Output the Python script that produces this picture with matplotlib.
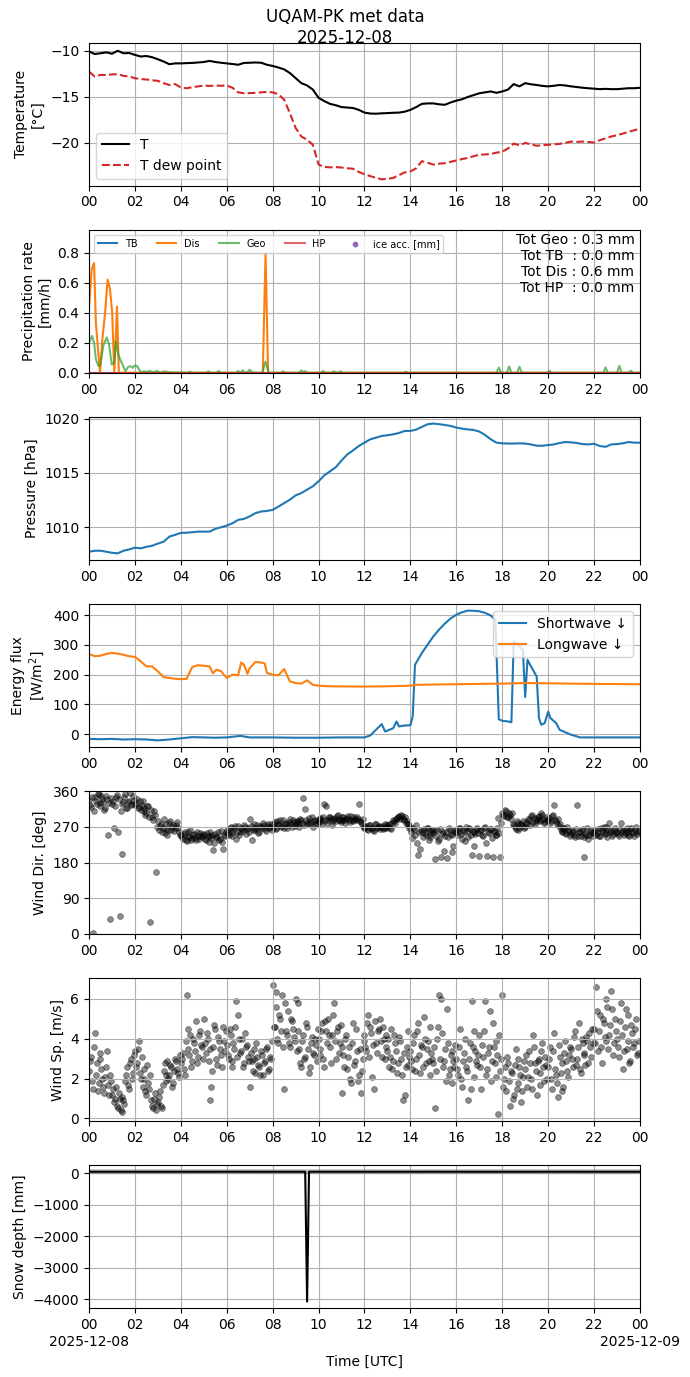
import numpy as np
import matplotlib
matplotlib.use("Agg")
import matplotlib.pyplot as plt
import matplotlib.dates as mdates
from matplotlib.ticker import FuncFormatter

# ---------------------------------------------------------------
# Data (hours since 2025-12-08 00 UTC)
# ---------------------------------------------------------------
DAY = np.datetime64("2025-12-08T00:00:00")

# temperature, every 15 min
temp_hours = np.arange(97) * 0.25
temp_T = [-10.05, -10.33, -10.25, -10.15, -10.30, -9.98, -10.25, -10.22,
          -10.43, -10.60, -10.55, -10.68, -10.90, -11.15, -11.44, -11.35,
          -11.35, -11.32, -11.30, -11.25, -11.20, -11.08, -11.20, -11.28,
          -11.35, -11.42, -11.50, -11.30, -11.28, -11.25, -11.28, -11.50,
          -11.63, -11.80, -12.00, -12.40, -12.95, -13.50, -13.75, -14.20,
          -15.10, -15.45, -15.75, -15.90, -16.10, -16.15, -16.20, -16.40,
          -16.70, -16.80, -16.82, -16.78, -16.75, -16.72, -16.70, -16.60,
          -16.40, -16.10, -15.75, -15.70, -15.70, -15.80, -15.85, -15.60,
          -15.40, -15.25, -15.00, -14.80, -14.60, -14.50, -14.40, -14.55,
          -14.40, -14.20, -13.60, -13.85, -13.50, -13.62, -13.70, -13.80,
          -13.85, -13.78, -13.70, -13.75, -13.85, -13.92, -14.00, -14.05,
          -14.10, -14.15, -14.12, -14.15, -14.15, -14.10, -14.05, -14.05,
          -14.00]
temp_Td = [-12.24, -12.78, -12.60, -12.62, -12.55, -12.52, -12.70, -12.78,
           -12.96, -13.05, -13.10, -13.18, -13.25, -13.50, -13.70, -13.60,
           -13.97, -14.05, -13.94, -13.85, -13.76, -13.80, -13.76, -13.78,
           -13.76, -14.00, -14.50, -14.60, -14.58, -14.55, -14.50, -14.45,
           -14.50, -14.70, -15.30, -16.75, -18.37, -19.30, -19.65, -20.20,
           -22.35, -22.60, -22.65, -22.62, -22.67, -22.75, -22.80, -23.15,
           -23.40, -23.60, -23.80, -23.95, -23.90, -23.80, -23.50, -23.20,
           -23.10, -22.75, -21.98, -22.15, -22.35, -22.25, -22.20, -22.05,
           -21.90, -21.75, -21.63, -21.45, -21.27, -21.25, -21.20, -21.05,
           -20.95, -20.60, -20.07, -20.25, -20.00, -20.15, -20.30, -20.25,
           -20.20, -20.15, -20.10, -19.98, -19.85, -19.88, -19.85, -19.90,
           -19.95, -19.70, -19.50, -19.30, -19.15, -18.98, -18.80, -18.62,
           -18.45]

# precipitation rates
tb_hours = [0.0, 24.0]
tb_rate = [0.0, 0.0]
hp_hours = [0.0, 24.0]
hp_rate = [0.0, 0.0]
dis_hours = [0.00, 0.12, 0.22, 0.30, 0.38, 0.48, 0.58, 0.70, 0.81, 0.91,
             1.01, 1.10, 1.22, 1.30, 7.57, 7.69, 7.80, 24.0]
dis_rate = [0.44, 0.69, 0.73, 0.33, 0.18, 0.00, 0.22, 0.40, 0.62, 0.56,
            0.40, 0.00, 0.44, 0.00, 0.00, 0.80, 0.00, 0.00]
geo_hours = [0.00, 0.14, 0.23, 0.30, 0.41, 0.50, 0.62, 0.77, 0.87, 0.99,
             1.10, 1.17, 1.28, 1.39, 1.49, 1.59, 1.71, 1.81, 1.90, 2.00,
             2.10, 2.19, 2.29, 2.40, 2.50, 2.65, 2.80, 2.95, 3.10, 3.30,
             3.50, 4.30, 4.40, 4.50, 5.10, 5.20, 5.30, 5.55, 5.65, 5.75,
             6.40, 6.50, 6.60, 6.70, 6.78, 6.90, 7.00, 7.10, 7.20, 7.55,
             7.69, 7.83, 8.35, 8.45, 8.55, 9.15, 9.25, 9.33, 9.42, 9.50,
             10.10, 10.20, 10.30, 10.55, 10.65, 10.85, 10.95, 11.05, 13.70, 13.80,
             13.90, 17.75, 17.85, 17.95, 18.20, 18.30, 18.40, 18.65, 18.75, 18.85,
             19.95, 20.05, 20.15, 22.40, 22.50, 22.60, 23.00, 23.10, 23.20, 23.50,
             23.60, 23.70, 24.00]
geo_rate = [0.200, 0.245, 0.190, 0.090, 0.045, 0.055, 0.180, 0.235, 0.190, 0.055,
            0.067, 0.210, 0.120, 0.078, 0.044, 0.011, 0.040, 0.044, 0.033, 0.049,
            0.044, 0.018, 0.004, 0.011, 0.004, 0.013, 0.003, 0.012, 0.003, 0.010,
            0.003, 0.000, 0.008, 0.000, 0.000, 0.009, 0.000, 0.000, 0.012, 0.000,
            0.000, 0.012, 0.000, 0.016, 0.000, 0.004, 0.020, 0.004, 0.000, 0.000,
            0.075, 0.000, 0.000, 0.010, 0.000, 0.000, 0.016, 0.004, 0.012, 0.000,
            0.000, 0.012, 0.000, 0.000, 0.010, 0.000, 0.010, 0.000, 0.000, 0.008,
            0.000, 0.000, 0.035, 0.000, 0.000, 0.042, 0.000, 0.000, 0.040, 0.000,
            0.000, 0.014, 0.000, 0.000, 0.036, 0.000, 0.000, 0.046, 0.000, 0.000,
            0.014, 0.000, 0.000]
ice_hours = []
ice_acc = []
totals = {"Geo": 0.3, "TB": 0.0, "Dis": 0.6, "HP": 0.0}

# pressure, every 15 min
pres_hours = np.arange(97) * 0.25
pressure = [1007.75, 1007.84, 1007.84, 1007.75, 1007.65, 1007.60, 1007.84, 1007.96,
            1008.12, 1008.06, 1008.20, 1008.30, 1008.50, 1008.67, 1009.14, 1009.30,
            1009.48, 1009.50, 1009.54, 1009.60, 1009.60, 1009.60, 1009.85, 1010.00,
            1010.15, 1010.37, 1010.68, 1010.77, 1011.00, 1011.30, 1011.45, 1011.50,
            1011.60, 1011.90, 1012.22, 1012.53, 1012.93, 1013.15, 1013.46, 1013.77,
            1014.23, 1014.78, 1015.15, 1015.52, 1016.14, 1016.70, 1017.07, 1017.47,
            1017.78, 1018.09, 1018.24, 1018.40, 1018.46, 1018.55, 1018.67, 1018.86,
            1018.86, 1018.98, 1019.23, 1019.48, 1019.54, 1019.48, 1019.41, 1019.32,
            1019.17, 1019.07, 1019.00, 1018.95, 1018.80, 1018.49, 1018.09, 1017.78,
            1017.72, 1017.70, 1017.70, 1017.72, 1017.70, 1017.62, 1017.50, 1017.50,
            1017.56, 1017.62, 1017.75, 1017.84, 1017.81, 1017.75, 1017.65, 1017.62,
            1017.68, 1017.47, 1017.40, 1017.62, 1017.65, 1017.72, 1017.84, 1017.78,
            1017.78]

# radiation
sw_hours = [0.0, 0.5, 1.0, 1.5, 2.0, 2.5, 3.0, 3.5, 4.0, 4.5, 5.0, 5.5,
            6.0, 6.6, 7.0, 8.0, 9.0, 10.0, 11.0, 12.0, 12.25, 12.5, 12.75, 12.9,
            13.0, 13.25, 13.4, 13.5, 13.75, 14.0, 14.1, 14.2, 14.5, 14.75, 15.0, 15.25,
            15.5, 15.75, 16.0, 16.25, 16.5, 16.75, 17.0, 17.25, 17.5, 17.7, 17.85, 18.0,
            18.25, 18.4, 18.5, 18.75, 18.9, 19.0, 19.1, 19.25, 19.5, 19.6, 19.7, 19.85,
            20.0, 20.1, 20.35, 20.5, 21.0, 21.4, 22.0, 23.0, 24.0]
shortwave = [-16, -17, -16, -18, -17, -18, -21, -18, -14, -10, -11, -12,
             -11, -6, -11, -11, -12, -12, -11, -11, -4.5, 14.6, 33.7, 9,
             12, 20, 42.7, 26, 29, 30, 59.5, 233.7, 273, 301, 329, 351.7,
             372, 388.8, 402, 410, 415.7, 415, 413.5, 408, 399, 385, 50, 45,
             42.7, 40, 312, 295.5, 282, 125, 250.5, 228, 194, 54, 31.5, 37,
             76, 54, 37, 14.6, -2, -11, -11, -11, -11]
lw_hours = [0.0, 0.25, 0.5, 0.75, 1.0, 1.25, 1.5, 1.75, 2.0, 2.25, 2.5, 2.75,
            3.0, 3.25, 3.5, 3.75, 4.0, 4.25, 4.5, 4.75, 5.0, 5.25, 5.4, 5.55,
            5.75, 6.0, 6.25, 6.5, 6.625, 6.75, 6.9, 7.0, 7.25, 7.5, 7.65, 7.75,
            8.0, 8.25, 8.5, 8.75, 9.0, 9.25, 9.5, 9.75, 10.0, 10.5, 11.0, 12.0,
            13.0, 14.0, 14.25, 16.0, 18.0, 19.0, 20.0, 22.0, 24.0]
longwave = [269.7, 262, 264, 270, 273, 271, 267, 262, 260, 245, 228, 228,
            211, 192, 189, 186.5, 185, 186, 226, 232, 230, 228, 205, 217,
            212, 189, 200, 198, 241, 234, 203, 222, 243, 241, 238, 206,
            200, 198, 219, 177.5, 172, 170, 181, 166, 163, 161, 160.5, 160,
            161, 163, 166, 168, 170, 172, 171, 169, 168]

# wind, every 5 min (set a) and shifted by 2.5 min (set b)
wind_hours_a = np.arange(288) / 12.0
wind_hours_b = np.arange(288) / 12.0 + 1.0 / 24.0
wind_dir_a = [
    338, 319, 2, 345, 328, 352, 330, 341, 312, 348, 249, 37,
    327, 268, 345, 257, 45, 201, 332, 352, 318, 336, 324, 347,
    326, 340, 320, 312, 335, 318, 305, 322, 29, 296, 310, 155,
    285, 272, 258, 290, 265, 250, 280, 262, 275, 268, 282, 258,
    249, 240, 256, 235, 248, 262, 242, 252, 238, 246, 255, 244,
    250, 236, 247, 258, 241, 211, 252, 245, 238, 260, 215, 248,
    262, 250, 270, 255, 266, 240, 272, 258, 264, 275, 252, 268,
    290, 238, 268, 262, 275, 258, 270, 280, 264, 272, 266, 278,
    270, 282, 265, 276, 288, 272, 268, 280, 275, 290, 270, 283,
    278, 285, 270, 288, 342, 316, 276, 292, 282, 270, 286, 280,
    281, 292, 278, 327, 322, 288, 296, 275, 290, 284, 300, 286,
    288, 295, 280, 292, 286, 298, 284, 290, 296, 327, 282, 290,
    266, 272, 262, 275, 268, 260, 276, 270, 264, 272, 268, 274,
    270, 278, 265, 287, 280, 292, 297, 300, 290, 294, 285, 276,
    270, 242, 262, 275, 198, 214, 258, 265, 250, 268, 245, 260,
    255, 189, 262, 240, 194, 258, 248, 192, 266, 252, 207, 260,
    262, 250, 268, 240, 256, 270, 245, 265, 200, 258, 252, 268,
    196, 262, 248, 270, 196, 255, 265, 194, 258, 250, 292, 194,
    304, 298, 310, 295, 300, 306, 274, 265, 280, 268, 276, 285,
    270, 278, 288, 297, 282, 276, 290, 297, 285, 300, 280, 294,
    287, 280, 297, 326, 284, 290, 276, 260, 268, 255, 270, 262,
    253, 260, 245, 325, 258, 248, 265, 193, 250, 240, 262, 255,
    258, 250, 265, 248, 262, 270, 255, 245, 280, 260, 252, 266,
    258, 248, 280, 262, 255, 268, 250, 264, 258, 246, 270, 260]
wind_dir_b = [
    325, 344, 310, 336, 352, 322, 347, 333, 318, 340, 329, 343,
    336, 322, 350, 340, 310, 328, 346, 318, 332, 355, 327, 338,
    330, 318, 335, 325, 310, 300, 322, 295, 312, 288, 300, 270,
    262, 278, 268, 255, 276, 262, 285, 270, 260, 274, 266, 250,
    244, 252, 238, 258, 245, 236, 250, 242, 256, 240, 248, 252,
    240, 254, 232, 246, 250, 228, 244, 256, 240, 232, 250, 258,
    255, 268, 248, 262, 272, 258, 250, 266, 260, 270, 264, 256,
    272, 262, 276, 268, 255, 272, 266, 274, 260, 278, 270, 262,
    278, 268, 284, 274, 270, 286, 278, 266, 282, 276, 288, 272,
    284, 276, 290, 280, 274, 288, 282, 278, 294, 284, 276, 288,
    290, 284, 296, 286, 280, 294, 290, 284, 292, 298, 286, 282,
    294, 286, 290, 298, 282, 288, 294, 286, 290, 284, 276, 270,
    270, 264, 274, 268, 262, 278, 266, 272, 270, 264, 276, 268,
    274, 268, 280, 284, 290, 296, 290, 298, 286, 280, 276, 268,
    258, 266, 250, 230, 256, 262, 244, 255, 268, 238, 252, 262,
    260, 248, 235, 264, 252, 210, 256, 244, 262, 250, 222, 258,
    258, 266, 252, 262, 235, 260, 268, 250, 258, 222, 264, 255,
    262, 250, 268, 230, 258, 264, 242, 260, 250, 268, 255, 280,
    300, 312, 296, 304, 290, 278, 270, 284, 262, 276, 272, 268,
    282, 290, 274, 300, 292, 284, 296, 288, 304, 290, 282, 288,
    292, 284, 300, 286, 278, 272, 264, 258, 266, 252, 260, 248,
    258, 250, 264, 246, 256, 262, 244, 252, 266, 250, 258, 248,
    262, 255, 248, 266, 258, 252, 270, 262, 256, 248, 262, 258,
    252, 265, 258, 250, 262, 256, 248, 266, 254, 262, 252, 258]
wind_speed_a = [
    2.4, 3.1, 1.5, 4.3, 2.8, 1.8, 3.3, 2.0, 1.3, 2.6, 1.7, 2.2,
    1.2, 0.8, 1.6, 0.5, 1.0, 0.3, 0.9, 1.9, 2.6, 1.5, 3.0, 2.3,
    3.4, 2.8, 3.9, 2.0, 1.6, 2.5, 1.2, 1.8, 2.2, 0.6, 1.0, 0.4,
    0.8, 1.4, 0.5, 2.4, 1.9, 2.9, 2.2, 2.6, 1.8, 3.0, 2.5, 2.1,
    2.8, 3.3, 2.2, 6.2, 3.5, 4.2, 2.9, 3.8, 4.9, 3.1, 4.4, 3.6,
    5.0, 3.3, 4.0, 0.95, 1.6, 3.6, 4.5, 2.7, 3.9, 3.2, 4.6, 3.4,
    3.7, 3.0, 4.2, 2.6, 3.5, 5.9, 5.2, 3.3, 4.0, 2.8, 3.6, 3.1,
    1.6, 2.9, 3.5, 2.3, 3.1, 2.6, 3.4, 2.2, 2.9, 3.6, 2.5, 3.0,
    6.7, 4.6, 6.35, 3.8, 5.0, 6.2, 1.5, 4.4, 5.4, 3.6, 4.9, 4.1,
    6.0, 5.8, 3.5, 2.6, 4.2, 3.1, 4.6, 2.3, 3.8, 3.3, 4.0, 2.9,
    4.0, 3.2, 4.8, 2.6, 4.4, 5.0, 3.6, 4.2, 5.8, 3.0, 4.6, 3.8,
    1.3, 3.2, 4.0, 2.5, 3.6, 1.8, 4.8, 2.9, 3.4, 2.2, 1.3, 3.0,
    4.2, 3.4, 5.2, 4.6, 2.1, 1.5, 3.8, 4.4, 5.0, 3.1, 4.0, 3.6,
    3.4, 2.6, 4.5, 2.9, 3.8, 2.3, 4.1, 3.0, 0.95, 1.2, 3.6, 2.7,
    3.4, 2.5, 4.2, 3.0, 4.8, 2.3, 3.6, 5.1, 2.8, 3.9, 2.2, 3.3,
    2.8, 0.5, 4.0, 6.2, 6.0, 2.6, 3.5, 5.5, 2.2, 3.2, 1.8, 2.6,
    3.0, 2.2, 4.5, 1.6, 3.3, 2.6, 0.9, 3.8, 5.9, 2.1, 3.4, 2.7,
    4.2, 1.5, 3.1, 5.9, 2.5, 3.6, 1.9, 4.8, 2.8, 3.9, 0.2, 2.4,
    6.2, 2.0, 1.4, 2.8, 0.6, 2.3, 1.2, 3.5, 1.8, 2.6, 0.8, 2.1,
    2.5, 1.6, 3.4, 2.0, 4.2, 2.8, 1.2, 3.0, 2.3, 3.8, 1.9, 2.7,
    2.6, 3.6, 1.5, 4.3, 2.2, 1.1, 3.1, 2.8, 1.6, 3.9, 2.4, 3.2,
    3.5, 2.6, 4.4, 3.0, 4.8, 2.3, 3.8, 3.2, 4.1, 2.8, 3.6, 4.5,
    4.5, 6.6, 3.4, 5.2, 2.8, 4.8, 3.9, 5.6, 4.2, 6.4, 3.2, 5.0,
    4.0, 3.1, 5.8, 2.5, 4.6, 3.5, 5.2, 2.9, 4.3, 3.8, 5.0, 3.3]
wind_speed_b = [
    2.9, 1.9, 3.6, 2.2, 1.4, 3.0, 2.5, 1.6, 2.1, 3.4, 1.2, 1.9,
    1.5, 1.0, 0.6, 1.3, 0.4, 1.1, 0.7, 2.2, 1.7, 2.8, 2.0, 3.2,
    2.6, 3.5, 2.3, 3.1, 2.0, 1.4, 2.7, 1.5, 0.9, 0.5, 1.3, 0.7,
    1.1, 0.6, 1.7, 2.8, 2.2, 2.0, 2.7, 1.6, 2.4, 2.9, 2.3, 3.2,
    3.0, 2.5, 3.9, 4.5, 3.2, 2.6, 4.0, 3.4, 2.8, 4.2, 3.7, 3.0,
    3.8, 4.3, 2.9, 3.5, 2.4, 4.7, 3.0, 4.1, 3.5, 2.6, 3.9, 4.4,
    3.2, 4.5, 2.9, 3.8, 4.6, 3.1, 4.0, 3.4, 2.6, 4.3, 3.7, 2.9,
    3.3, 2.4, 3.0, 3.8, 2.7, 2.2, 3.2, 2.8, 3.5, 2.4, 3.1, 3.9,
    4.6, 5.6, 4.0, 5.2, 4.4, 3.6, 5.8, 4.2, 3.8, 5.0, 4.5, 3.9,
    3.4, 4.4, 2.8, 3.9, 3.0, 4.8, 3.5, 2.6, 4.1, 3.2, 3.7, 4.5,
    3.5, 4.4, 3.0, 4.9, 3.8, 4.2, 2.8, 5.2, 3.9, 4.4, 3.3, 4.7,
    3.6, 2.6, 4.2, 3.1, 2.0, 3.8, 2.7, 4.5, 1.9, 3.5, 2.4, 3.9,
    3.6, 4.8, 3.1, 4.3, 3.7, 4.9, 3.3, 4.5, 3.9, 4.6, 3.0, 4.2,
    4.0, 3.1, 2.5, 4.2, 3.4, 2.8, 3.9, 2.2, 3.3, 2.6, 4.4, 3.1,
    2.9, 3.8, 2.4, 4.4, 3.2, 3.7, 2.6, 4.0, 3.5, 2.9, 4.6, 3.0,
    3.6, 2.4, 4.6, 3.0, 4.3, 2.9, 1.9, 3.8, 2.5, 3.4, 2.9, 3.7,
    2.5, 3.6, 2.0, 2.9, 4.0, 2.4, 3.0, 1.5, 3.6, 4.4, 2.9, 3.2,
    2.6, 3.7, 4.4, 2.2, 3.3, 5.4, 2.9, 3.6, 2.1, 3.2, 4.2, 3.0,
    1.6, 2.6, 3.1, 1.9, 2.4, 1.0, 2.7, 1.5, 3.0, 2.2, 1.4, 2.9,
    3.2, 2.1, 2.8, 1.5, 3.6, 2.4, 2.9, 1.7, 3.4, 2.6, 3.1, 2.0,
    3.0, 2.0, 3.4, 2.5, 1.8, 3.7, 2.3, 1.4, 3.3, 2.9, 2.1, 3.6,
    3.0, 4.1, 2.7, 3.6, 2.5, 4.0, 3.3, 2.7, 3.9, 4.3, 3.1, 3.8,
    3.8, 5.4, 4.4, 3.6, 5.0, 4.1, 6.0, 3.5, 4.7, 5.5, 3.8, 4.4,
    3.6, 4.9, 4.2, 3.4, 5.5, 3.9, 2.8, 4.7, 3.6, 4.5, 3.2, 3.9]

# snow depth (black) and the smoothed gray trace under it
snow_hours = [0.0, 3.0, 6.0, 9.0, 9.417, 9.5, 9.583, 12.0, 15.0, 18.0, 21.0, 24.0]
snow_depth = [52, 51, 52, 51, 51, -4070, 52, 51, 52, 51, 52, 51]
snow_smooth_hours = [0.0, 6.0, 12.0, 18.0, 24.0]
snow_smooth = [51, 52, 51, 52, 51]


def to_time(hours):
    """Convert hours since midnight to datetime64 values."""
    secs = np.round(np.asarray(hours, dtype=float) * 3600).astype("int64")
    return DAY + secs.astype("timedelta64[s]")


def hour_label(x, pos=None):
    return mdates.num2date(x).strftime("%H")


fig, axes = plt.subplots(7, 1, figsize=(6.9, 13.77))
fig.subplots_adjust(left=0.129, right=0.9275, top=0.9688, bottom=0.0501, hspace=0.31)
fig.suptitle("UQAM-PK met data\n2025-12-08", fontsize=12, y=0.994)

# Temperature
ax = axes[0]
ax.plot(to_time(temp_hours), temp_T, color="k", lw=1.5, label="T")
ax.plot(to_time(temp_hours), temp_Td, color="tab:red", ls="--", lw=1.5, label="T dew point")
ax.set_ylabel("Temperature\n[°C]")
ax.set_ylim(-24.65, -9.13)
ax.legend(loc="lower left")

# Precipitation
ax = axes[1]
ax.plot(to_time(tb_hours), tb_rate, color="tab:blue", lw=1.5, label="TB")
ax.plot(to_time(dis_hours), dis_rate, color="tab:orange", lw=1.5, label="Dis")
ax.plot(to_time(geo_hours), geo_rate, color="tab:green", lw=1.5, alpha=0.7, label="Geo")
ax.plot(to_time(hp_hours), hp_rate, color="tab:red", lw=1.5, alpha=0.7, label="HP")
ax.scatter(to_time(ice_hours), ice_acc, color="tab:purple", s=10, label="ice acc. [mm]")
ax.set_ylabel("Precipitation rate\n[mm/h]")
ax.set_ylim(0, 0.95)
ax.legend(loc="upper left", ncol=5, fontsize=7)
txt = "\n".join([f"Tot Geo : {totals['Geo']:.1f} mm",
                 f"Tot TB  : {totals['TB']:.1f} mm",
                 f"Tot Dis : {totals['Dis']:.1f} mm",
                 f"Tot HP  : {totals['HP']:.1f} mm"])
ax.text(0.99, 0.98, txt, transform=ax.transAxes, ha="right", va="top", fontsize=10)

# Pressure
ax = axes[2]
ax.plot(to_time(pres_hours), pressure, color="tab:blue", lw=1.5)
ax.set_ylabel("Pressure [hPa]")

# Radiation
ax = axes[3]
ax.plot(to_time(sw_hours), shortwave, color="tab:blue", lw=1.5, label="Shortwave ↓")
ax.plot(to_time(lw_hours), longwave, color="tab:orange", lw=1.5, label="Longwave ↓")
ax.set_ylabel("Energy flux\n[W/m$^2$]")
ax.legend(loc="upper right")

# Wind direction
ax = axes[4]
for hrs, vals in ((wind_hours_a, wind_dir_a), (wind_hours_b, wind_dir_b)):
    ax.scatter(to_time(hrs), vals, color="k", s=18, alpha=0.45, linewidths=0.5)
ax.set_ylabel("Wind Dir. [deg]")
ax.set_ylim(0, 360)
ax.set_yticks([0, 90, 180, 270, 360])

# Wind speed
ax = axes[5]
for hrs, vals in ((wind_hours_a, wind_speed_a), (wind_hours_b, wind_speed_b)):
    ax.scatter(to_time(hrs), vals, color="k", s=18, alpha=0.45, linewidths=0.5)
ax.set_ylabel("Wind Sp. [m/s]")

# Snow depth
ax = axes[6]
ax.plot(to_time(snow_smooth_hours), snow_smooth, color="gray", lw=3.5, alpha=0.5)
ax.plot(to_time(snow_hours), snow_depth, color="k", lw=1.5)
ax.set_ylabel("Snow depth [mm]")
ax.set_xlabel("Time [UTC]", labelpad=17)
for h, date in ((0.0, "2025-12-08"), (24.0, "2025-12-09")):
    ax.annotate(date, xy=(mdates.date2num(to_time([h])[0]), 0),
                xycoords=("data", "axes fraction"), xytext=(0, -19.5),
                textcoords="offset points", ha="center", va="top", fontsize=10)

for ax in axes:
    ax.set_xlim(to_time([0.0])[0], to_time([24.0])[0])
    ax.xaxis.set_major_locator(mdates.HourLocator(byhour=range(0, 24, 2)))
    ax.xaxis.set_major_formatter(FuncFormatter(hour_label))
    ax.grid(True)

fig.savefig("out.png", dpi=100)
